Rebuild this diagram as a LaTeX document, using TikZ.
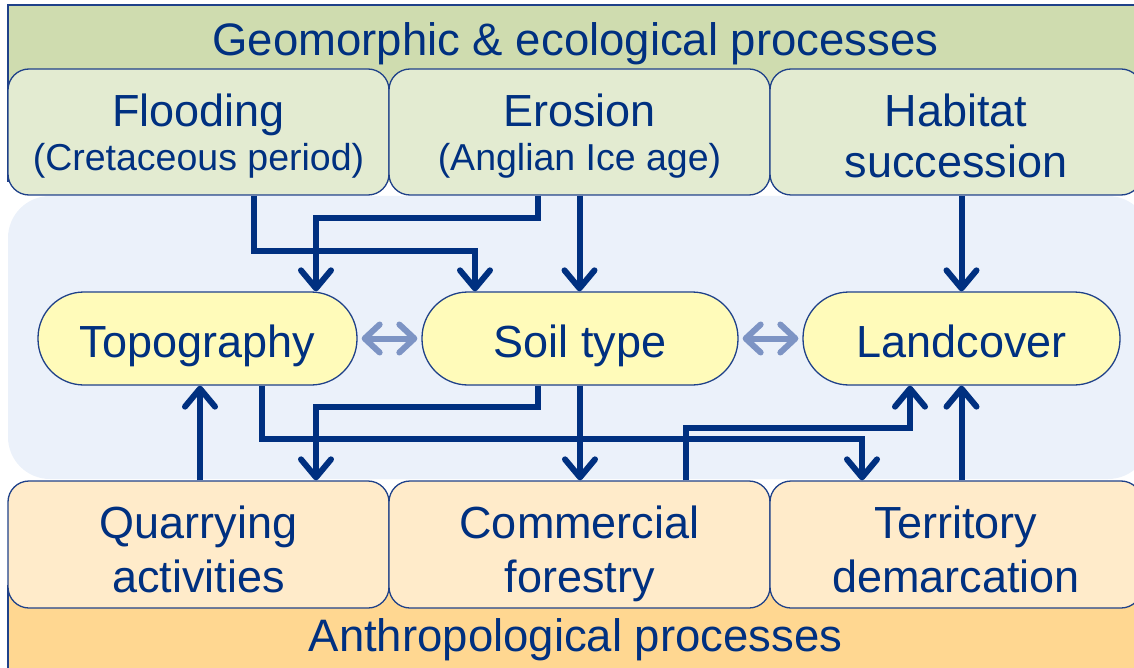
\documentclass[tikz,border=0pt]{standalone}
\usepackage{fontspec}
\setmainfont{Liberation Sans}
\usetikzlibrary{arrows.meta,calc}

\definecolor{ink}{HTML}{003080}
\definecolor{edge}{HTML}{1F4189}
\definecolor{bargreen}{HTML}{CFDCAF}
\definecolor{boxgreen}{HTML}{E3EBD1}
\definecolor{midblue}{HTML}{EBF1FA}
\definecolor{ovalfill}{HTML}{FFFBBA}
\definecolor{boxorange}{HTML}{FFEBCA}
\definecolor{barorange}{HTML}{FFD791}
\definecolor{softlink}{HTML}{7D94C4}

\newcommand\mainsz{\fontsize{45}{51}\selectfont}
\newcommand\titlesz{\fontsize{45.5}{51}\selectfont}
\newcommand\notesz{\fontsize{37.5}{43}\selectfont}
% vertical struts that fix where a two-line label sits in its box
\newcommand\toprule[1]{\rule{0pt}{#1pt}}
\newcommand\botrule{\rule[-10pt]{0pt}{10pt}}

\begin{document}
\begin{tikzpicture}[x=1pt,y=-1pt,
  procbox/.style={draw=edge, line width=1.3pt, rounded corners=21pt,
    minimum width=381pt, minimum height=126pt, inner sep=0pt,
    align=center, text=ink, font=\mainsz},
  topbox/.style={procbox, fill=boxgreen},
  botbox/.style={procbox, fill=boxorange, minimum height=127pt},
  oval/.style={draw=edge, line width=1.3pt, fill=ovalfill, rounded corners=46pt,
    minimum height=93pt, inner sep=0pt, text=ink, font=\mainsz,
    text height=37pt, text depth=0pt},
  bartitle/.style={anchor=base, text=ink, font=\titlesz},
  arr/.style={draw=ink, line width=6pt,
    -{Straight Barb[length=18pt,width=30pt,line cap=round,line join=round]}},
  dbl/.style={draw=softlink, line width=6pt, shorten <=4pt, shorten >=4pt,
    {Straight Barb[length=15pt,width=28pt,line cap=round,line join=round]}-{Straight Barb[length=15pt,width=28pt,line cap=round,line join=round]}}
]
\useasboundingbox (0,0) rectangle (1134,668);
\clip (0,0) rectangle (1134,668);

% background bands
\fill[bargreen] (8,5) rectangle (1160,182);
\draw[edge, line width=1.3pt] (1160,5) -- (8,5) -- (8,182);
\fill[midblue, rounded corners=42pt] (8,196) rectangle (1150,479);
\fill[barorange] (8,585) rectangle (1160,680);
\draw[edge, line width=1.3pt] (8,585) -- (8,680);

\node[bartitle] (geo) at (575.5,56) {Geomorphic \& ecological processes};
\node[bartitle] (anth) at (575.5,651) {Anthropological processes};

% driving processes
\node[topbox] (flood) at (198.5,132)
  {\toprule{44}Flooding\\[-7pt]{\notesz (Cretaceous period)}\botrule};
\node[topbox] (eros)  at (579.5,132)
  {\toprule{44}Erosion\\[-7pt]{\notesz (Anglian Ice age)}\botrule};
\node[topbox, minimum width=372pt] (habit) at (956,132)
  {\toprule{51}Habitat\\succession\botrule};

% landscape properties
\node[oval, minimum width=319pt] (topo) at (197.5,338.5) {Topography};
\node[oval, minimum width=316pt] (soil) at (580,338.5) {Soil type};
\node[oval, minimum width=317pt] (land) at (961.5,338.5) {Landcover};

% human activities
\node[botbox] (quar) at (198.5,544.5)
  {\toprule{51}Quarrying\\[3pt]activities\botrule};
\node[botbox] (comm) at (579.5,544.5)
  {\toprule{51}Commercial\\[3pt]forestry\botrule};
\node[botbox, minimum width=372pt] (terr) at (956,544.5)
  {\toprule{51}Territory\\[3pt]demarcation\botrule};

% mutual links between properties
\draw[dbl] (topo.east) -- (soil.west);
\draw[dbl] (soil.east) -- (land.west);

% influences from above
\draw[arr] ($(flood.south)+(55.5,0)$) -- ++(0,55) -| ($(soil.north)+(-105,0)$);
\draw[arr] ($(eros.south)+(-41.5,0)$) -- ++(0,22) -| ($(topo.north)+(118.5,0)$);
\draw[arr] (eros.south) -- (eros.south |- soil.north);
\draw[arr] (habit.south -| land.north) -- (land.north);

% influences on activities
\draw[arr] ($(topo.south)+(64.5,0)$) -- ++(0,53) -| ($(terr.north)+(-94,0)$);
\draw[arr] ($(soil.south)+(-42,0)$) -- ++(0,21) -| ($(quar.north)+(117.5,0)$);
\draw[arr] (soil.south) -- (soil.south |- comm.north);

% feedback from activities
\draw[arr] ($(quar.north)+(1.5,0)$) -- ($(quar.north |- topo.south)+(1.5,0)$);
\draw[arr] ($(comm.north)+(106.5,0)$) -- ++(0,-52) -| ($(land.south)+(-51.5,0)$);
\draw[arr] (terr.north -| land.south) -- (land.south);
\end{tikzpicture}
\end{document}
